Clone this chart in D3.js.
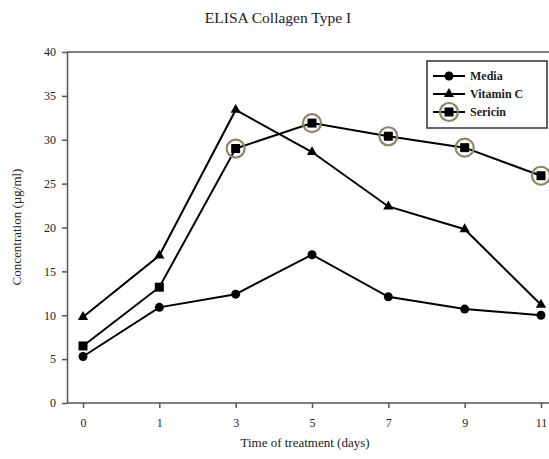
<!DOCTYPE html>
<html><head><meta charset="utf-8">
<script src="https://cdn.jsdelivr.net/npm/d3@7"></script>
<style>body{margin:0;background:#fff}svg{display:block}</style>
</head><body>
<svg id="c" width="549" height="459"></svg>
<script>
const days = ["0","1","3","5","7","9","11"];
const media = [5.3, 10.9, 12.4, 16.9, 12.1, 10.7, 10.0];
const vitaminC = [9.8, 16.8, 33.4, 28.6, 22.4, 19.8, 11.2];
const sericin = [6.5, 13.2, 29.0, 31.9, 30.4, 29.1, 25.9];
const sericinRinged = [false, false, true, true, true, true, true];
const yTicks = [0, 5, 10, 15, 20, 25, 30, 35, 40];
const seriesNames = ["Media", "Vitamin C", "Sericin"];

const svg = d3.select("#c");
const font = "'Liberation Serif','Times New Roman',serif";
const x = d3.scalePoint().domain(days).range([83, 541]);
const y = d3.scaleLinear().domain([0, 40]).range([403, 52]);

// frame lines
svg.append("line").attr("x1",67).attr("x2",549).attr("y1",52).attr("y2",52)
  .attr("stroke","#555").attr("stroke-width",1.5);

const yAxis = svg.append("g").attr("transform","translate(67,0)")
  .call(d3.axisLeft(y).tickValues(yTicks).tickSize(5).tickSizeOuter(0).tickPadding(6));
const xAxis = svg.append("g").attr("transform","translate(0,403)")
  .call(d3.axisBottom(x).tickSize(5).tickSizeOuter(0).tickPadding(10));
xAxis.select(".domain").attr("d","M67,0H549");
[yAxis, xAxis].forEach(g => {
  g.select(".domain").attr("stroke","#555").attr("stroke-width",1.5);
  g.selectAll(".tick line").attr("stroke","#555").attr("stroke-width",1.5);
  g.selectAll(".tick text").attr("font-family",font).attr("font-size",12).attr("fill","#222");
});

svg.append("text").attr("x",278).attr("y",23).attr("text-anchor","middle")
  .attr("font-family",font).attr("font-size",15.5).attr("fill","#222").text("ELISA Collagen Type I");
svg.append("text").attr("x",305).attr("y",447).attr("text-anchor","middle")
  .attr("font-family",font).attr("font-size",13).attr("fill","#222").text("Time of treatment (days)");
svg.append("text").attr("transform","translate(21,227) rotate(-90)").attr("text-anchor","middle")
  .attr("font-family",font).attr("font-size",13).attr("fill","#222").text("Concentration (µg/ml)");

const line = d3.line().x((d,i)=>x(days[i])).y(d=>y(d));
const data = [media, vitaminC, sericin];
data.forEach(s => {
  svg.append("path").attr("d", line(s)).attr("fill","none").attr("stroke","#000").attr("stroke-width",2);
});
const tri = d3.symbol().type(d3.symbolTriangle).size(45);
function marker(g, k, cx, cy, ring) {
  if (k === 0) g.append("circle").attr("cx",cx).attr("cy",cy).attr("r",4.5).attr("fill","#000");
  else if (k === 1) g.append("path").attr("d",tri()).attr("transform",`translate(${cx},${cy})`).attr("fill","#000");
  else {
    if (ring) g.append("circle").attr("cx",cx).attr("cy",cy).attr("r",9).attr("fill","none")
      .attr("stroke","#8d8566").attr("stroke-width",2.2);
    g.append("rect").attr("x",cx-4.5).attr("y",cy-4.5).attr("width",9).attr("height",9).attr("fill","#000");
  }
}
data.forEach((s,k) => {
  const g = svg.append("g");
  s.forEach((v,i) => marker(g, k, x(days[i]), y(v), k === 2 && sericinRinged[i]));
});

// legend
const lg = svg.append("g");
lg.append("rect").attr("x",427).attr("y",61).attr("width",120).attr("height",67)
  .attr("fill","#fff").attr("stroke","#333").attr("stroke-width",1.5);
seriesNames.forEach((n,k) => {
  const ly = 76 + k*18;
  lg.append("line").attr("x1",433).attr("x2",465).attr("y1",ly).attr("y2",ly).attr("stroke","#000").attr("stroke-width",2);
  marker(lg, k, 449, ly, true);
  lg.append("text").attr("x",470).attr("y",ly+4).attr("font-family",font).attr("font-size",12)
    .attr("font-weight","bold").attr("fill","#222").text(n);
});
</script>
</body></html>
